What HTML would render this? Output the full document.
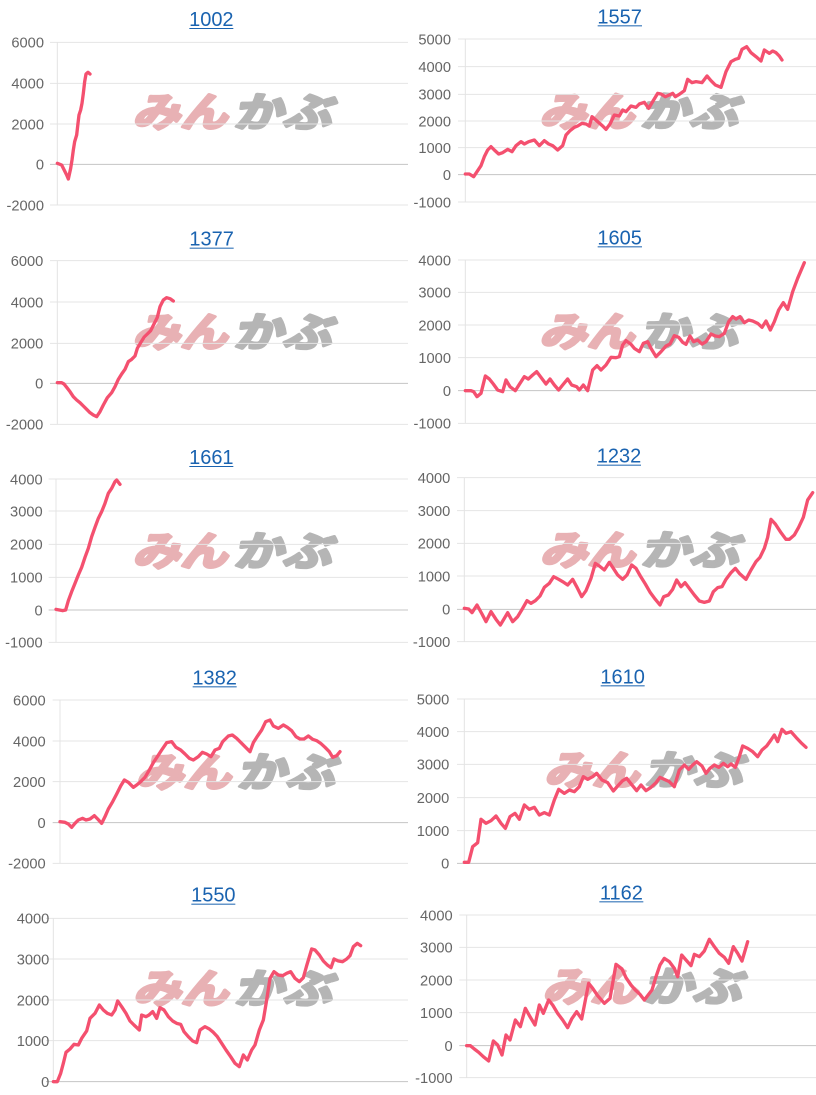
<!DOCTYPE html>
<html><head><meta charset="utf-8">
<style>
html,body{margin:0;padding:0;background:#fff;}
svg{display:block;}
.t{font-family:"Liberation Sans",Arial,sans-serif;font-size:60px;fill:#1a63b0;text-anchor:middle;}
.l{font-family:"Liberation Sans",Arial,sans-serif;font-size:44px;fill:#666;text-anchor:end;}
.g{stroke:#e4e4e4;stroke-width:3;fill:none;}
.z{stroke:#c4c4c4;stroke-width:3;fill:none;}
.d{stroke:#f4506f;stroke-width:10;fill:none;stroke-linejoin:round;stroke-linecap:round;}
.wp{font-family:"Liberation Sans","Noto Sans CJK JP",sans-serif;font-weight:bold;font-size:120px;fill:#e8b1b4;stroke:#e8b1b4;stroke-width:9;stroke-linejoin:round;}
.wg{font-family:"Liberation Sans","Noto Sans CJK JP",sans-serif;font-weight:bold;font-size:120px;fill:#b5b5b5;stroke:#b5b5b5;stroke-width:9;stroke-linejoin:round;}
</style></head>
<body>
<svg width="816" height="1095" viewBox="0 0 816 1095" xmlns="http://www.w3.org/2000/svg">

<!-- Chart 1: 1002 -->
<g transform="translate(0,0) scale(0.33333)">
<g transform="translate(0,380) skewX(-14) translate(0,-380)"><text class="wp" x="398" y="380" textLength="285" lengthAdjust="spacingAndGlyphs">みん</text><text class="wg" x="700" y="380" textLength="295" lengthAdjust="spacingAndGlyphs">かぶ</text></g>
<line class="g" x1="150" y1="127" x2="1224" y2="127"/><line class="g" x1="150" y1="250" x2="1224" y2="250"/><line class="g" x1="150" y1="372" x2="1224" y2="372"/><line class="z" x1="150" y1="493" x2="1224" y2="493"/><line class="g" x1="150" y1="615" x2="1224" y2="615"/>
<line class="g" x1="172" y1="127" x2="172" y2="615"/>
<text class="l" x="132" y="143">6000</text><text class="l" x="132" y="266">4000</text><text class="l" x="132" y="388">2000</text><text class="l" x="132" y="509">0</text><text class="l" x="132" y="631">-2000</text>
<text class="t" x="634" y="78">1002</text><rect x="568" y="84" width="132" height="3" fill="#1a63b0"/>
<polyline class="d" points="172,490 185,495 200,525 205,537 212,505 216,480 220,450 224,425 230,405 234,370 237,345 242,330 246,310 250,280 254,245 258,222 264,217 270,222"/>
</g>

<!-- Chart 2: 1557 -->
<g transform="translate(406,0) scale(0.33333)">
<g transform="translate(0,378) skewX(-14) translate(0,-378)"><text class="wp" x="400" y="378" textLength="285" lengthAdjust="spacingAndGlyphs">みん</text><text class="wg" x="702" y="378" textLength="295" lengthAdjust="spacingAndGlyphs">かぶ</text></g>
<line class="g" x1="156" y1="117" x2="1230" y2="117"/><line class="g" x1="156" y1="200" x2="1230" y2="200"/><line class="g" x1="156" y1="283" x2="1230" y2="283"/><line class="g" x1="156" y1="363" x2="1230" y2="363"/><line class="g" x1="156" y1="443" x2="1230" y2="443"/><line class="z" x1="156" y1="524" x2="1230" y2="524"/><line class="g" x1="156" y1="606" x2="1230" y2="606"/>
<line class="g" x1="178" y1="117" x2="178" y2="606"/>
<text class="l" x="135" y="133">5000</text><text class="l" x="135" y="216">4000</text><text class="l" x="135" y="299">3000</text><text class="l" x="135" y="379">2000</text><text class="l" x="135" y="459">1000</text><text class="l" x="135" y="540">0</text><text class="l" x="135" y="622">-1000</text>
<text class="t" x="641" y="70">1557</text><rect x="575" y="76" width="133" height="3" fill="#1a63b0"/>
<polyline class="d" points="178,522 190,522 203,530 215,512 225,497 235,470 245,450 255,440 265,450 278,462 290,458 305,448 318,455 330,437 345,425 355,432 368,425 385,420 400,437 415,422 428,432 440,437 455,450 470,437 480,405 492,392 505,382 515,378 528,370 540,372 550,378 558,350 575,365 590,378 600,388 612,372 625,345 640,348 650,330 660,335 675,318 690,322 700,312 715,307 728,325 740,305 755,280 765,282 778,290 790,285 800,280 808,290 820,283 835,272 845,238 858,248 870,245 888,248 903,228 915,242 928,255 945,262 960,215 975,185 988,178 998,175 1008,148 1022,140 1035,158 1050,170 1065,183 1075,150 1090,160 1100,153 1110,158 1120,168 1128,180"/>
</g>

<!-- Chart 3: 1377 -->
<g transform="translate(0,220) scale(0.33333)">
<g transform="translate(0,380) skewX(-14) translate(0,-380)"><text class="wp" x="398" y="380" textLength="285" lengthAdjust="spacingAndGlyphs">みん</text><text class="wg" x="700" y="380" textLength="295" lengthAdjust="spacingAndGlyphs">かぶ</text></g>
<line class="g" x1="150" y1="122" x2="1224" y2="122"/><line class="g" x1="150" y1="246" x2="1224" y2="246"/><line class="g" x1="150" y1="370" x2="1224" y2="370"/><line class="z" x1="150" y1="490" x2="1224" y2="490"/><line class="g" x1="150" y1="613" x2="1224" y2="613"/>
<line class="g" x1="172" y1="122" x2="172" y2="613"/>
<text class="l" x="130" y="138">6000</text><text class="l" x="130" y="262">4000</text><text class="l" x="130" y="386">2000</text><text class="l" x="130" y="506">0</text><text class="l" x="130" y="629">-2000</text>
<text class="t" x="635" y="77">1377</text><rect x="569" y="83" width="132" height="3" fill="#1a63b0"/>
<polyline class="d" points="172,488 185,488 192,492 200,502 210,515 220,530 230,540 240,548 250,558 260,568 270,578 280,585 290,590 300,575 310,555 322,533 335,518 345,500 355,478 365,462 375,448 385,425 395,418 405,408 412,385 422,368 432,352 442,342 452,332 462,312 472,292 480,260 490,240 500,233 510,236 520,243"/>
</g>

<!-- Chart 4: 1605 -->
<g transform="translate(406,220) scale(0.33333)">
<g transform="translate(0,378) skewX(-14) translate(0,-378)"><text class="wp" x="400" y="378" textLength="285" lengthAdjust="spacingAndGlyphs">みん</text><text class="wg" x="702" y="378" textLength="295" lengthAdjust="spacingAndGlyphs">かぶ</text></g>
<line class="g" x1="156" y1="120" x2="1230" y2="120"/><line class="g" x1="156" y1="217" x2="1230" y2="217"/><line class="g" x1="156" y1="315" x2="1230" y2="315"/><line class="g" x1="156" y1="413" x2="1230" y2="413"/><line class="z" x1="156" y1="512" x2="1230" y2="512"/><line class="g" x1="156" y1="610" x2="1230" y2="610"/>
<line class="g" x1="178" y1="120" x2="178" y2="610"/>
<text class="l" x="135" y="136">4000</text><text class="l" x="135" y="233">3000</text><text class="l" x="135" y="331">2000</text><text class="l" x="135" y="429">1000</text><text class="l" x="135" y="528">0</text><text class="l" x="135" y="626">-1000</text>
<text class="t" x="641" y="73">1605</text><rect x="575" y="79" width="133" height="3" fill="#1a63b0"/>
<polyline class="d" points="178,512 195,512 203,515 213,530 225,520 238,468 250,477 262,492 275,510 290,515 300,480 312,500 328,512 342,490 355,470 367,477 380,465 392,455 405,472 420,492 432,477 445,495 458,510 470,495 485,477 497,495 512,500 520,510 532,495 545,512 560,450 573,437 585,450 600,435 615,412 630,413 640,410 650,375 660,362 675,373 685,385 700,395 712,370 725,365 735,385 750,410 765,395 780,378 792,372 805,347 818,352 830,367 840,373 852,348 863,365 875,360 888,372 900,365 915,342 928,348 940,350 955,340 968,305 980,290 990,297 1002,290 1015,308 1028,300 1040,303 1055,310 1068,322 1080,303 1093,330 1105,305 1118,270 1132,248 1145,268 1160,215 1175,175 1195,128"/>
</g>

<!-- Chart 5: 1661 -->
<g transform="translate(0,440) scale(0.33333)">
<g transform="translate(0,376) skewX(-14) translate(0,-376)"><text class="wp" x="398" y="376" textLength="285" lengthAdjust="spacingAndGlyphs">みん</text><text class="wg" x="700" y="376" textLength="295" lengthAdjust="spacingAndGlyphs">かぶ</text></g>
<line class="g" x1="146" y1="117" x2="1224" y2="117"/><line class="g" x1="146" y1="213" x2="1224" y2="213"/><line class="g" x1="146" y1="313" x2="1224" y2="313"/><line class="g" x1="146" y1="412" x2="1224" y2="412"/><line class="z" x1="146" y1="510" x2="1224" y2="510"/><line class="g" x1="146" y1="607" x2="1224" y2="607"/>
<line class="g" x1="168" y1="117" x2="168" y2="607"/>
<text class="l" x="128" y="133">4000</text><text class="l" x="128" y="229">3000</text><text class="l" x="128" y="329">2000</text><text class="l" x="128" y="428">1000</text><text class="l" x="128" y="526">0</text><text class="l" x="128" y="623">-1000</text>
<text class="t" x="634" y="72">1661</text><rect x="568" y="78" width="132" height="3" fill="#1a63b0"/>
<polyline class="d" points="168,508 178,510 188,512 197,510 205,482 215,455 225,430 235,405 245,382 255,352 265,325 275,290 285,262 295,235 305,215 315,190 325,160 335,145 345,125 350,120 360,133"/>
</g>

<!-- Chart 6: 1232 -->
<g transform="translate(406,440) scale(0.33333)">
<g transform="translate(0,374) skewX(-14) translate(0,-374)"><text class="wp" x="402" y="374" textLength="285" lengthAdjust="spacingAndGlyphs">みん</text><text class="wg" x="704" y="374" textLength="295" lengthAdjust="spacingAndGlyphs">かぶ</text></g>
<line class="g" x1="153" y1="113" x2="1230" y2="113"/><line class="g" x1="153" y1="212" x2="1230" y2="212"/><line class="g" x1="153" y1="310" x2="1230" y2="310"/><line class="g" x1="153" y1="408" x2="1230" y2="408"/><line class="z" x1="153" y1="508" x2="1230" y2="508"/><line class="g" x1="153" y1="605" x2="1230" y2="605"/>
<line class="g" x1="175" y1="113" x2="175" y2="605"/>
<text class="l" x="133" y="129">4000</text><text class="l" x="133" y="228">3000</text><text class="l" x="133" y="326">2000</text><text class="l" x="133" y="424">1000</text><text class="l" x="133" y="524">0</text><text class="l" x="133" y="621">-1000</text>
<text class="t" x="639" y="68">1232</text><rect x="573" y="74" width="132" height="3" fill="#1a63b0"/>
<polyline class="d" points="175,505 188,507 198,518 213,495 228,522 240,545 255,515 270,538 283,555 295,535 305,518 320,545 335,530 350,505 363,482 375,490 388,482 402,468 415,442 430,430 443,410 458,418 470,425 485,435 500,418 512,440 527,470 540,452 555,415 568,370 580,378 595,390 610,367 622,385 635,405 650,418 663,405 677,375 690,385 703,408 718,432 733,458 748,478 762,495 773,470 787,465 800,448 812,420 825,440 837,428 850,445 865,465 880,483 895,487 910,483 922,455 935,443 948,440 960,418 975,398 988,385 1000,400 1020,418 1035,390 1050,365 1062,352 1075,325 1085,292 1095,238 1108,252 1125,278 1140,298 1150,298 1165,285 1178,262 1192,232 1205,180 1220,158"/>
</g>

<!-- Chart 7: 1382 -->
<g transform="translate(0,660) scale(0.33333)">
<g transform="translate(0,380) skewX(-14) translate(0,-380)"><text class="wp" x="408" y="380" textLength="285" lengthAdjust="spacingAndGlyphs">みん</text><text class="wg" x="710" y="380" textLength="295" lengthAdjust="spacingAndGlyphs">かぶ</text></g>
<line class="g" x1="158" y1="120" x2="1224" y2="120"/><line class="g" x1="158" y1="243" x2="1224" y2="243"/><line class="g" x1="158" y1="365" x2="1224" y2="365"/><line class="z" x1="158" y1="488" x2="1224" y2="488"/><line class="g" x1="158" y1="610" x2="1224" y2="610"/>
<line class="g" x1="180" y1="120" x2="180" y2="610"/>
<text class="l" x="137" y="136">6000</text><text class="l" x="137" y="259">4000</text><text class="l" x="137" y="381">2000</text><text class="l" x="137" y="504">0</text><text class="l" x="137" y="626">-2000</text>
<text class="t" x="644" y="73">1382</text><rect x="578" y="79" width="132" height="3" fill="#1a63b0"/>
<polyline class="d" points="180,485 195,487 205,492 215,502 225,490 235,480 248,475 258,480 270,477 283,467 293,477 305,490 315,470 325,447 338,425 350,402 362,378 373,360 385,367 400,382 410,375 422,365 435,352 448,330 460,308 472,290 485,270 500,248 515,245 528,262 542,270 555,282 568,295 580,300 595,290 607,277 620,282 633,290 645,270 658,265 668,245 685,228 697,225 710,235 725,250 738,263 750,275 760,248 770,232 785,210 797,185 810,180 820,198 835,205 850,195 862,202 875,212 888,230 900,237 912,237 925,228 938,238 950,242 962,250 975,262 988,275 998,292 1010,287 1020,275"/>
</g>

<!-- Chart 8: 1610 -->
<g transform="translate(406,660) scale(0.33333)">
<g transform="translate(0,374) skewX(-14) translate(0,-374)"><text class="wp" x="415" y="374" textLength="285" lengthAdjust="spacingAndGlyphs">みん</text><text class="wg" x="715" y="374" textLength="295" lengthAdjust="spacingAndGlyphs">かぶ</text></g>
<line class="g" x1="153" y1="117" x2="1230" y2="117"/><line class="g" x1="153" y1="215" x2="1230" y2="215"/><line class="g" x1="153" y1="313" x2="1230" y2="313"/><line class="g" x1="153" y1="413" x2="1230" y2="413"/><line class="g" x1="153" y1="512" x2="1230" y2="512"/><line class="z" x1="153" y1="610" x2="1230" y2="610"/>
<line class="g" x1="175" y1="117" x2="175" y2="610"/>
<text class="l" x="130" y="133">5000</text><text class="l" x="130" y="231">4000</text><text class="l" x="130" y="329">3000</text><text class="l" x="130" y="429">2000</text><text class="l" x="130" y="528">1000</text><text class="l" x="130" y="626">0</text>
<text class="t" x="650" y="70">1610</text><rect x="584" y="76" width="132" height="3" fill="#1a63b0"/>
<polyline class="d" points="175,607 188,607 200,560 215,548 225,478 240,490 255,482 270,468 285,490 298,505 312,470 327,460 340,478 355,435 370,448 385,442 400,465 415,458 430,465 445,420 458,388 475,400 490,390 505,395 520,380 532,350 545,358 560,350 572,340 588,360 605,368 622,393 635,378 650,362 662,355 678,375 692,392 705,375 720,392 735,382 750,368 762,352 775,358 790,365 805,380 820,330 835,315 848,328 860,315 872,305 888,318 900,340 912,325 925,315 938,322 952,310 965,320 975,312 988,322 1000,290 1010,258 1025,265 1040,275 1055,290 1068,270 1082,258 1095,240 1105,225 1115,245 1128,208 1140,220 1155,215 1170,232 1185,248 1200,262"/>
</g>

<!-- Chart 9: 1550 -->
<g transform="translate(0,875) scale(0.33333)">
<g transform="translate(0,384) skewX(-14) translate(0,-384)"><text class="wp" x="400" y="384" textLength="285" lengthAdjust="spacingAndGlyphs">みん</text><text class="wg" x="702" y="384" textLength="295" lengthAdjust="spacingAndGlyphs">かぶ</text></g>
<line class="g" x1="138" y1="130" x2="1224" y2="130"/><line class="g" x1="138" y1="252" x2="1224" y2="252"/><line class="g" x1="138" y1="375" x2="1224" y2="375"/><line class="g" x1="138" y1="497" x2="1224" y2="497"/><line class="z" x1="138" y1="620" x2="1224" y2="620"/>
<line class="g" x1="160" y1="130" x2="160" y2="620"/>
<text class="l" x="148" y="146">4000</text><text class="l" x="148" y="268">3000</text><text class="l" x="148" y="391">2000</text><text class="l" x="148" y="513">1000</text><text class="l" x="148" y="636">0</text>
<text class="t" x="640" y="80">1550</text><rect x="574" y="86" width="132" height="3" fill="#1a63b0"/>
<polyline class="d" points="160,620 172,620 182,595 190,565 198,532 210,522 222,508 235,510 245,490 260,468 270,430 285,415 298,390 310,405 322,415 335,420 345,405 353,378 365,395 378,415 390,438 402,450 418,465 425,420 438,425 447,420 458,410 470,430 480,398 492,405 505,425 518,438 530,445 542,448 552,470 565,485 578,498 590,503 600,465 615,455 628,462 640,472 652,485 665,505 678,525 692,545 705,565 718,575 730,540 742,555 755,525 765,510 778,465 790,435 800,375 810,310 822,290 835,300 848,302 860,295 872,290 885,310 898,320 910,308 920,272 935,222 945,225 958,240 970,258 982,270 993,278 1002,252 1015,258 1028,260 1040,252 1050,242 1060,215 1072,205 1082,212"/>
</g>

<!-- Chart 10: 1162 -->
<g transform="translate(406,875) scale(0.33333)">
<g transform="translate(0,378) skewX(-14) translate(0,-378)"><text class="wp" x="410" y="378" textLength="285" lengthAdjust="spacingAndGlyphs">みん</text><text class="wg" x="712" y="378" textLength="295" lengthAdjust="spacingAndGlyphs">かぶ</text></g>
<line class="g" x1="160" y1="120" x2="1230" y2="120"/><line class="g" x1="160" y1="217" x2="1230" y2="217"/><line class="g" x1="160" y1="315" x2="1230" y2="315"/><line class="g" x1="160" y1="413" x2="1230" y2="413"/><line class="z" x1="160" y1="512" x2="1230" y2="512"/><line class="g" x1="160" y1="608" x2="1230" y2="608"/>
<line class="g" x1="182" y1="120" x2="182" y2="608"/>
<text class="l" x="140" y="136">4000</text><text class="l" x="140" y="233">3000</text><text class="l" x="140" y="331">2000</text><text class="l" x="140" y="429">1000</text><text class="l" x="140" y="528">0</text><text class="l" x="140" y="624">-1000</text>
<text class="t" x="646" y="73">1162</text><rect x="580" y="79" width="132" height="3" fill="#1a63b0"/>
<polyline class="d" points="182,512 193,512 205,522 218,532 232,545 248,558 262,498 275,510 288,540 300,480 312,495 328,435 343,455 358,400 372,425 387,450 400,390 412,415 428,375 440,390 455,415 470,435 485,458 497,432 512,410 527,432 548,325 560,340 575,362 595,385 612,370 630,268 648,282 660,308 675,330 688,345 702,358 715,375 725,362 738,345 750,305 762,270 775,250 790,260 805,280 815,305 827,240 840,255 855,272 865,238 880,245 895,228 910,193 925,215 940,235 955,247 968,265 982,215 995,235 1008,258 1025,200"/>
</g>

</svg>
</body></html>
